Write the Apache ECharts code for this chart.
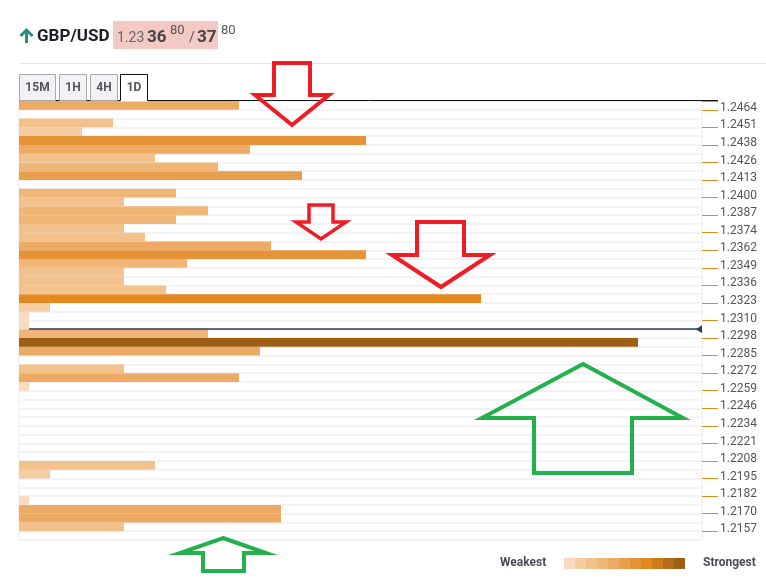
<!DOCTYPE html>
<html><head><meta charset="utf-8">
<script src="https://cdn.jsdelivr.net/npm/echarts@6/dist/echarts.min.js"></script>
<style>html,body{margin:0;padding:0;background:#fff}#c{width:766px;height:583px}</style>
</head><body><div id="c"></div>
<script>
// Price labels (every other row, top to bottom)
const tickLabels = ['1.2464','1.2451','1.2438','1.2426','1.2413','1.2400','1.2387','1.2374','1.2362','1.2349','1.2336','1.2323','1.2310','1.2298','1.2285','1.2272','1.2259','1.2246','1.2234','1.2221','1.2208','1.2195','1.2182','1.2170','1.2157'];
// Confluence strength per row, top to bottom (50 rows)
const rowStrength = [
  220, 0, 94, 63, 347, 231, 136, 199, 283, 0,
  157, 105, 189, 157, 105, 126, 252, 347, 168, 105,
  105, 147, 462, 31, 10, 10, 189, 619, 241, 0,
  105, 220, 10, 0, 0, 0, 0, 0, 0, 0,
  0, 136, 31, 0, 0, 10, 262, 262, 105, 0
];
const strengthMax = 683;
const currentPrice = 1.2301;
const priceTop = 1.24672, priceBottom = 1.21474;
const legendColors = ['#F8DBBF','#F5CDA3','#F2C18C','#EFB677','#ECAA63','#E99E4C','#E69236','#E3881F','#CE7A1B','#B56B18','#9E5E14'];
const strengthBreaks = [20, 80, 150, 210, 270, 320, 400, 500, 560, 600];
const tabs = ['15M','1H','4H','1D'];

const rowNames = rowStrength.map((_, i) => i % 2 === 0 ? tickLabels[i / 2] : 'mid' + i);
const colorFor = v => legendColors[strengthBreaks.filter(b => v >= b).length];
// axis is bottom-up, so reverse
const cats = rowNames.slice().reverse();
const barData = rowStrength.slice().reverse().map(v => ({ value: v, itemStyle: { color: colorFor(v) } }));
const showLabel = (idx) => (idx % 2 === 1);

const red = '#EE1D24', green = '#22B14C';
function arrow(points, color, w) {
  return { type: 'polygon', z: 100, shape: { points }, style: { fill: null, stroke: color, lineWidth: w, lineJoin: 'miter' } };
}
const tabBoxes = [[19,56],[59,87],[90,118],[120,148]];
const graphics = [
  { type: 'line', z: 50, shape: { x1: 19, y1: 63.5, x2: 766, y2: 63.5 }, style: { stroke: '#E6E6EC', lineWidth: 1 } },
  { type: 'polyline', z: 50, shape: { points: [[20.5,36],[26.5,30],[32.5,36]] }, style: { stroke: '#2B8C80', lineWidth: 3, fill: null } },
  { type: 'line', z: 50, shape: { x1: 26.5, y1: 30.5, x2: 26.5, y2: 43 }, style: { stroke: '#2B8C80', lineWidth: 3 } },
  { type: 'text', z: 50, style: { text: 'GBP/USD', x: 37, y: 37, font: 'bold 17px Roboto', fill: '#1E1E24', verticalAlign: 'middle' } },
  { type: 'rect', z: 49, shape: { x: 113, y: 21, width: 105, height: 28 }, style: { fill: '#F2C9C4' } },
  { type: 'text', z: 50, style: { text: '1.23', x: 117, y: 38.5, font: '14px Roboto', fill: '#666', verticalAlign: 'middle' } },
  { type: 'text', z: 50, style: { text: '36', x: 147, y: 37.5, font: 'bold 17px Roboto', fill: '#444', verticalAlign: 'middle' } },
  { type: 'text', z: 50, style: { text: '80', x: 170, y: 31, font: '13px Roboto', fill: '#555', verticalAlign: 'middle' } },
  { type: 'text', z: 50, style: { text: '/', x: 189, y: 38.5, font: '14px Roboto', fill: '#555', verticalAlign: 'middle' } },
  { type: 'text', z: 50, style: { text: '37', x: 197, y: 37.5, font: 'bold 17px Roboto', fill: '#444', verticalAlign: 'middle' } },
  { type: 'text', z: 50, style: { text: '80', x: 221, y: 31, font: '13px Roboto', fill: '#555', verticalAlign: 'middle' } },
  { type: 'line', z: 50, shape: { x1: 19, y1: 100.5, x2: 718, y2: 100.5 }, style: { stroke: '#111', lineWidth: 1 } },
  { type: 'text', z: 50, style: { text: 'Weakest', x: 500, y: 563, font: 'bold 12px Roboto', fill: '#4B4B5A', verticalAlign: 'middle' } },
  { type: 'text', z: 50, style: { text: 'Strongest', x: 703, y: 563, font: 'bold 12px Roboto', fill: '#4B4B5A', verticalAlign: 'middle' } },
  arrow([[274,63],[310,63],[310,95],[329,95],[292,125],[255,95],[274,95]], red, 4),
  arrow([[309,205],[333,205],[333,222],[346,222],[321,239],[296,222],[309,222]], red, 3.5),
  arrow([[417,222],[464,222],[464,255],[490,255],[441,287],[392,255],[417,255]], red, 4),
  arrow([[583,364],[683,418],[632,418],[632,473],[534,473],[534,418],[482,418]], green, 4),
  arrow([[223,538],[266,553],[244,553],[244,571],[203,571],[203,553],[180,553]], green, 4)
];
tabs.forEach((t, i) => {
  const [x0, x1] = tabBoxes[i];
  const active = i === tabs.length - 1;
  graphics.push({ type: 'rect', z: 51, shape: { x: x0 + 0.5, y: 74.5, width: x1 - x0 - 1, height: active ? 27 : 26 },
    style: { fill: active ? '#fff' : '#F2F2F6', stroke: active ? null : '#AAAAAA', lineWidth: 1 } });
  if (active) {
    graphics.push({ type: 'polyline', z: 52, shape: { points: [[x0 + 0.5, 100.5],[x0 + 0.5, 74.5],[x1 - 0.5, 74.5],[x1 - 0.5, 100.5]] }, style: { stroke: '#111', lineWidth: 1, fill: null } });
  }
  graphics.push({ type: 'text', z: 53, style: { text: t, x: (x0 + x1) / 2, y: 87.5, font: 'bold 12px Roboto', fill: '#555', align: 'center', verticalAlign: 'middle' } });
});
legendColors.forEach((c, i) => {
  graphics.push({ type: 'rect', z: 50, shape: { x: 564 + i * 11, y: 558, width: 11, height: 11 }, style: { fill: c } });
});

const chart = echarts.init(document.getElementById('c'), null, { renderer: 'canvas' });
chart.setOption({
  animation: false,
  grid: { left: 19, right: 64, top: 101, bottom: 43, show: true, borderColor: '#ECECF1', borderWidth: 1 },
  xAxis: { type: 'value', min: 0, max: strengthMax, show: false },
  yAxis: [
    {
      type: 'category', data: cats, position: 'right', inverse: false,
      axisLine: { show: false, onZero: false },
      axisTick: { show: true, alignWithLabel: false, interval: showLabel, length: 16, lineStyle: { color: '#E38A1D', width: 1 } },
      axisLabel: { show: true, interval: showLabel, margin: 18, verticalAlign: 'middle',
        formatter: v => '{p|' + v + '}',
        rich: { p: { color: '#555', fontSize: 12, fontFamily: 'Roboto', padding: [5, 0, 0, 0] } } },
      splitLine: { show: true, interval: 0, lineStyle: { color: '#F2F2F7', width: 2 } }
    },
    { type: 'value', min: priceBottom, max: priceTop, show: false, position: 'left', axisLine: { onZero: false } }
  ],
  series: [
    { type: 'bar', data: barData, barCategoryGap: '0%', barWidth: '100%', silent: true },
    {
      type: 'line', xAxisIndex: 0, yAxisIndex: 1, data: [], silent: true,
      markLine: { silent: true, symbol: ['none', 'none'], label: { show: false },
        lineStyle: { color: '#2E3D5B', width: 1.5, type: 'solid' },
        data: [[{ coord: [10, currentPrice] }, { coord: [680, currentPrice] }]] },
      markPoint: { silent: true, symbol: 'triangle', symbolSize: [8, 6], symbolRotate: 90, label: { show: false },
        itemStyle: { color: '#2E3D5B' }, data: [{ coord: [680, currentPrice] }] }
    }
  ],
  graphic: graphics
});
</script></body></html>
